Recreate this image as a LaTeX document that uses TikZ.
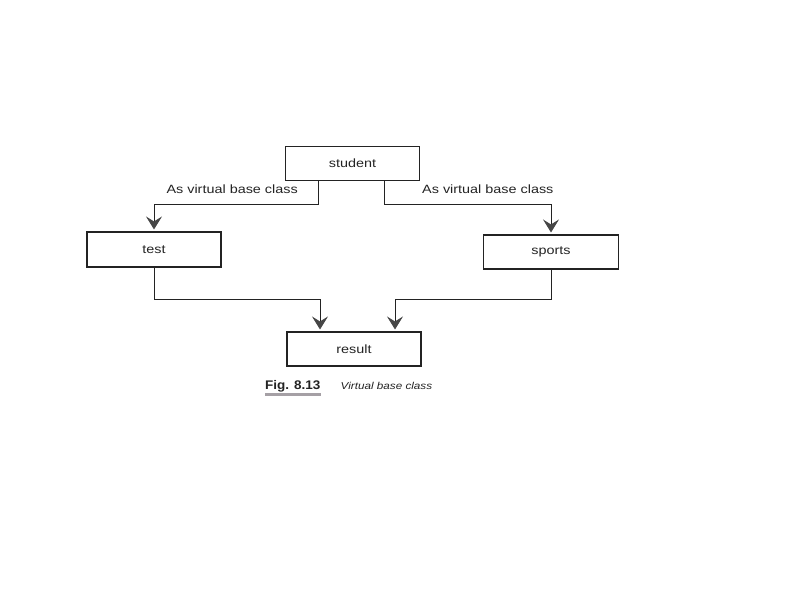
\documentclass[tikz,border=0pt]{standalone}
\usepackage{fontspec}
\setmainfont{Liberation Sans}
\usetikzlibrary{arrows.meta}
\definecolor{ink}{RGB}{35,35,35}
\definecolor{tipgray}{RGB}{70,70,70}
\definecolor{bargray}{RGB}{165,160,165}
\newcommand{\widetxt}[1]{\scalebox{1.2}[1]{#1}}
\tikzset{
  box/.style={draw=ink, line width=1.1pt, minimum width=134pt, minimum height=34pt, inner sep=0pt, font=\fontsize{12}{14}\selectfont, text=ink},
  lbl/.style={inner sep=0pt, font=\fontsize{12}{14}\selectfont, text=ink},
  conn/.style={draw=ink, line width=0.9pt},
  arr/.style={conn, shorten >=2pt, -{Stealth[length=13pt, width=16pt, inset=5pt, color=tipgray]}}
}
\begin{document}
\begin{tikzpicture}[x=1pt, y=-1pt]
\useasboundingbox (0,0) rectangle (794,595);
\node[box] (student) at (352.5,163.5) {\widetxt{student}};
\node[box, minimum height=35pt] (test) at (154,249.5) {\widetxt{test}};
\node[box, minimum width=135pt] (sports) at (551,252) {\widetxt{sports}};
\node[box] (result) at (354,349) {\widetxt{result}};
\node[lbl, anchor=east] (l1) at (298,189) {\widetxt{As virtual base class}};
\node[lbl, anchor=west] (l2) at (422,189) {\widetxt{As virtual base class}};
\draw[arr] ([xshift=-34.5pt]student.south) -- ++(0,23) -| (test.north);
\draw[arr] ([xshift=31.5pt]student.south) -- ++(0,23) -| (sports.north);
\draw[arr] (test.south) -- ++(0,32) -| ([xshift=-34pt]result.north);
\draw[arr] (sports.south) -- ++(0,30) -| ([xshift=41pt]result.north);
\node[inner sep=0pt, font=\bfseries\fontsize{12.5}{14}\selectfont, text=ink, anchor=base west] (fig) at (265,389) {\scalebox{1.08}[1]{Fig. 8.13}};
\fill[bargray] (265,392.5) rectangle (321,395.5);
\node[inner sep=0pt, font=\itshape\fontsize{10}{12}\selectfont, text=ink, anchor=base west] (cap) at (340.5,389) {\scalebox{1.17}[1]{Virtual base class}};
\end{tikzpicture}
\end{document}
